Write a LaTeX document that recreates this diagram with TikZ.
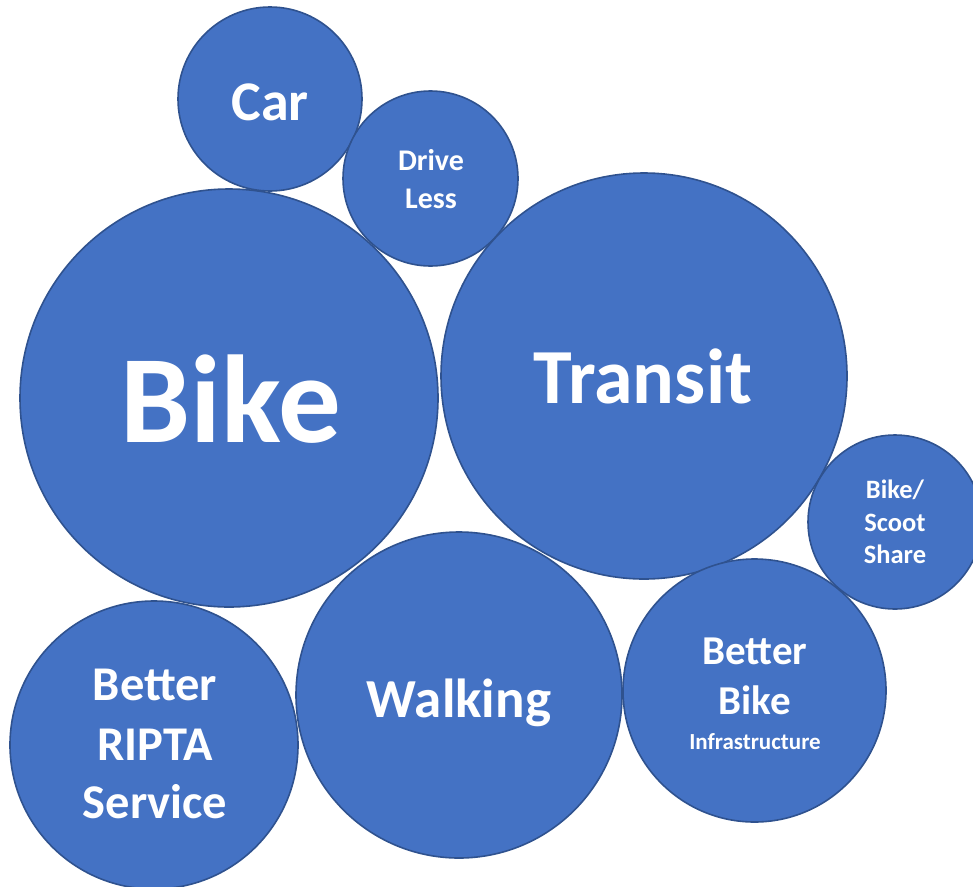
\documentclass[tikz,border=0pt]{standalone}
\usepackage{fontspec}
\setmainfont{Carlito}
\definecolor{bubfill}{HTML}{4472C4}
\definecolor{bubline}{HTML}{2F528F}
\tikzset{
  bubble/.style={circle, draw=bubline, fill=bubfill, line width=1.6pt, inner sep=0pt, minimum size=#1},
  lbl/.style={text=white, font=\bfseries, anchor=base, inner sep=0pt},
}
\begin{document}
\begin{tikzpicture}[x=1pt,y=-1pt]
\useasboundingbox (0,0) rectangle (973,886);
\begin{scope}
\clip (0,0) rectangle (973,886);
\node[bubble=184pt] (car) at (270,99) {};
\node[bubble=175pt] (drive) at (430.5,178.5) {};
\node[bubble=418pt] (bike) at (229,398) {};
\node[bubble=406pt] (transit) at (644,376) {};
\node[bubble=174pt] (share) at (895,522) {};
\node[bubble=263pt] (infra) at (754.5,690.5) {};
\node[bubble=326pt] (walk) at (459,695) {};
\node[bubble=288pt] (ripta) at (154,745) {};
\end{scope}
\node[lbl, font=\bfseries\fontsize{56}{60}\selectfont] (tcar) at (270,120) {Car};
\node[lbl, font=\bfseries\fontsize{30}{34}\selectfont] (tdrive1) at (431,170) {Drive};
\node[lbl, font=\bfseries\fontsize{30}{34}\selectfont] (tdrive2) at (431,208) {Less};
\node[lbl, font=\bfseries\fontsize{125}{130}\selectfont] (tbike) at (231,442) {Bike};
\node[lbl, font=\bfseries\fontsize{78}{82}\selectfont] (ttransit) at (643,403) {Transit};
\node[lbl, font=\bfseries\fontsize{55}{60}\selectfont] (twalk) at (459,717) {Walking};
\node[lbl, font=\bfseries\fontsize{48.5}{52}\selectfont] (tr1) at (155,700) {Better};
\node[lbl, font=\bfseries\fontsize{48.5}{52}\selectfont] (tr2) at (155,760) {RIPTA};
\node[lbl, font=\bfseries\fontsize{48.5}{52}\selectfont] (tr3) at (155,818) {Service};
\node[lbl, font=\bfseries\fontsize{41}{44}\selectfont] (ti1) at (755,664) {Better};
\node[lbl, font=\bfseries\fontsize{41}{44}\selectfont] (ti2) at (755,714) {Bike};
\node[lbl, font=\bfseries\fontsize{23}{26}\selectfont] (ti3) at (755,749) {Infrastructure};
\node[lbl, font=\bfseries\fontsize{26.5}{30}\selectfont] (ts1) at (895,498) {Bike/};
\node[lbl, font=\bfseries\fontsize{26.5}{30}\selectfont] (ts2) at (895,531) {Scoot};
\node[lbl, font=\bfseries\fontsize{26.5}{30}\selectfont] (ts3) at (895,563) {Share};
\end{tikzpicture}
\end{document}
